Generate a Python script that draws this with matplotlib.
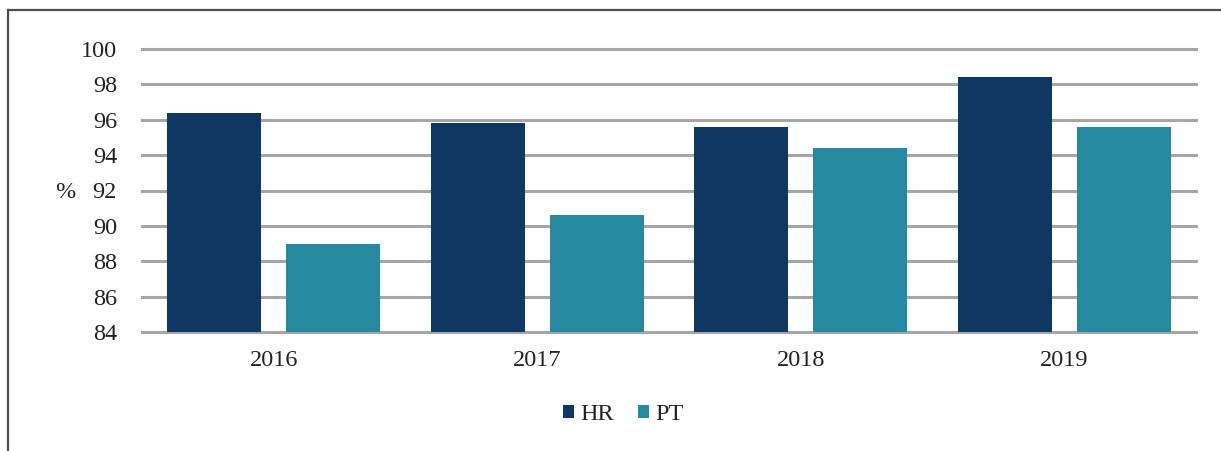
import matplotlib
matplotlib.use("Agg")
import matplotlib.pyplot as plt
import numpy as np
from matplotlib.lines import Line2D

years = ["2016", "2017", "2018", "2019"]
hr = [96.4, 95.8, 95.6, 98.4]
pt = [89.0, 90.6, 94.4, 95.6]
yticks = [84, 86, 88, 90, 92, 94, 96, 98, 100]

plt.rcParams['font.family'] = ['Liberation Serif', 'DejaVu Serif']

W, H = 1221, 451
fig = plt.figure(figsize=(W / 100, H / 100), dpi=100)

ax = fig.add_axes([142 / W, 1 - 332 / H, (1196 - 142) / W, (332 - 49) / H])
x = np.arange(len(years))
bw = 0.357
c_hr = "#0E3862"
c_pt = "#2589A0"
ax.bar(x - 0.225, [v - 84 for v in hr], bw, bottom=84, color=c_hr, zorder=3, label="HR")
ax.bar(x + 0.225, [v - 84 for v in pt], bw, bottom=84, color=c_pt, zorder=3, label="PT")

fs = 17.5
ax.set_ylim(84, 100)
ax.set_xlim(-0.5, 3.5)
ax.set_yticks(yticks)
ax.set_yticklabels([str(t) for t in yticks], fontsize=fs, color="#222222")
ax.set_xticks(x)
ax.set_xticklabels(years, fontsize=fs, color="#222222")
ax.tick_params(axis="both", length=0)
ax.tick_params(axis="y", pad=18)
ax.tick_params(axis="x", pad=13)
ax.grid(axis="y", color="#A6A6A6", linewidth=2.2, zorder=0)
for gl in ax.get_ygridlines():
    gl.set_clip_on(False)
for s in ax.spines.values():
    s.set_visible(False)

fig.text(65 / W, 1 - 192 / H, "%", fontsize=fs, ha="center", va="center", color="#222222")

leg = fig.legend(loc="center", bbox_to_anchor=(623 / W, 1 - 415 / H), ncol=2,
                 frameon=False, fontsize=fs, handlelength=0.45, handleheight=0.45,
                 handletextpad=0.25, columnspacing=1.0)
for t in leg.get_texts():
    t.set_color("#222222")

# outer frame lines (top and left)
fig.add_artist(Line2D([8 / W, 1], [1 - 10 / H, 1 - 10 / H], transform=fig.transFigure,
                      color="#4D4D4D", linewidth=1.6))
fig.add_artist(Line2D([8 / W, 8 / W], [0, 1 - 10 / H], transform=fig.transFigure,
                      color="#4D4D4D", linewidth=1.6))

fig.savefig("out.png", dpi=100)
